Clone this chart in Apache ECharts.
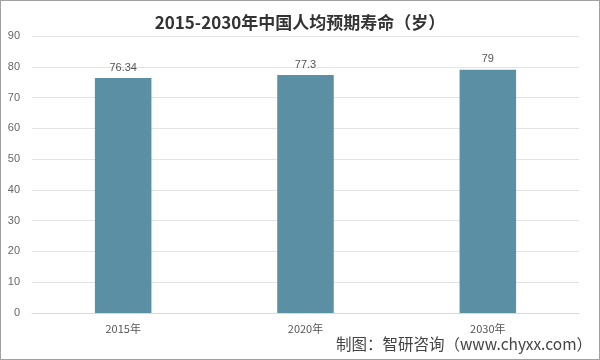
<!DOCTYPE html>
<html><head><meta charset="utf-8">
<script src="https://cdn.jsdelivr.net/npm/echarts@6/dist/echarts.min.js"></script>
<style>html,body{margin:0;padding:0;background:#fff}
#c{position:absolute;left:0;top:0;width:598px;height:358px;border:1px solid #a0a0a0}</style>
</head><body><div id="c"></div>
<script>
const categories = ['2015年', '2020年', '2030年'];
const values = [76.34, 77.3, 79];
const labels = ['76.34', '77.3', '79'];
const chart = echarts.init(document.getElementById('c'));
chart.setOption({
  animation: false,
  title: [{
    text: '2015-2030年中国人均预期寿命（岁）',
    left: 'center', top: 8,
    textStyle: {fontFamily: 'Noto Sans CJK SC', fontSize: 17, fontWeight: 'bold', color: '#333'}
  }, {
    text: '制图：智研咨询（www.chyxx.com）',
    right: 2, bottom: 2,
    textStyle: {fontFamily: 'Noto Sans CJK SC', fontSize: 15.5, fontWeight: 'normal', color: '#444'}
  }],
  grid: {left: 31, right: 20, top: 35, bottom: 46},
  xAxis: {
    type: 'category', data: categories,
    axisLine: {lineStyle: {color: '#d9d9d9'}},
    axisTick: {show: false},
    axisLabel: {color: '#555', fontSize: 11, fontFamily: 'Noto Sans CJK SC', margin: 10}
  },
  yAxis: {
    type: 'value', min: 0, max: 90, interval: 10,
    axisLine: {show: false}, axisTick: {show: false},
    splitLine: {lineStyle: {color: '#e3e3e3'}},
    axisLabel: {color: '#666', fontSize: 11, margin: 12}
  },
  series: [{
    type: 'bar', data: values, barWidth: '31%',
    itemStyle: {color: '#5b8fa4'},
    label: {show: true, position: 'top', color: '#555', fontSize: 11,
      formatter: p => labels[p.dataIndex]}
  }]
});
</script></body></html>
